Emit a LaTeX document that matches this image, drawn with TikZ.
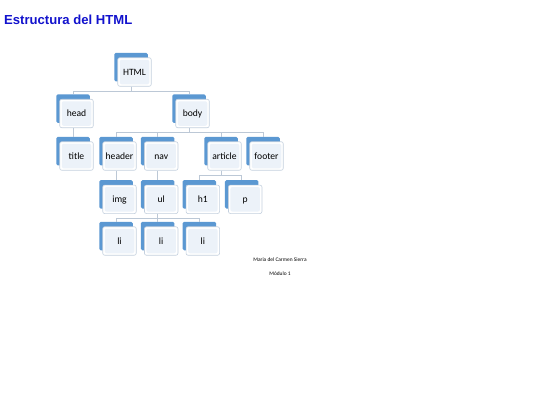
\documentclass[tikz,border=0pt]{standalone}
\usepackage{fontspec}
\setmainfont{Carlito}
\newfontfamily\titlefont{Liberation Sans}
\usepackage{xcolor}
\definecolor{tagblue}{RGB}{91,152,210}
\definecolor{tagline}{RGB}{196,208,222}
\definecolor{taginner}{RGB}{236,242,249}
\definecolor{linkgray}{RGB}{188,200,214}
\definecolor{titleblue}{RGB}{18,18,205}

\begin{document}
\begin{tikzpicture}[x=1bp,y=-1bp]
    \tikzstyle{back}=[rectangle, rounded corners=1.5bp, fill=tagblue, inner sep=0pt,
        minimum width=33.5bp, minimum height=28.5bp]
    \tikzstyle{tag}=[rectangle, rounded corners=2bp, fill=white, draw=tagline, line width=0.6bp,
        inner sep=0pt, minimum width=33.5bp, minimum height=28.5bp,
        font=\fontsize{9.6bp}{11bp}\selectfont, text height=6.6bp, text depth=0pt,
        path picture={\fill[taginner] ([shift={(2bp,-2bp)}]path picture bounding box.north west)
            rectangle ([shift={(-2bp,2bp)}]path picture bounding box.south east);}]
    \tikzstyle{link}=[draw=linkgray, line width=0.7bp]

    \fill[white] (0,0) rectangle (540,405);
    \useasboundingbox (0,0) rectangle (540,405);

    \node [anchor=base west, inner sep=0pt, text=titleblue,
        font=\titlefont\bfseries\fontsize{13.1bp}{16bp}\selectfont] (title-text) at (4,24) {Estructura del HTML};

    % level 1
    \node [back] (html-b) at (131,67) {};
    \node [tag] (html) at ([shift={(3.5,5)}]html-b) {HTML};

    % level 2
    \node [back] (head-b) at (73,108.5) {};
    \node [tag] (head) at ([shift={(3.5,5)}]head-b) {head};
    \node [back] (body-b) at (189,108.5) {};
    \node [tag] (body) at ([shift={(3.5,5)}]body-b) {body};

    % level 3
    \node [back] (title-b) at (73,151) {};
    \node [tag] (title) at ([shift={(3.5,5)}]title-b) {title};
    \node [back] (header-b) at (116,151) {};
    \node [tag] (header) at ([shift={(3.5,5)}]header-b) {header};
    \node [back] (nav-b) at (157.7,151) {};
    \node [tag] (nav) at ([shift={(3.5,5)}]nav-b) {nav};
    \node [back] (article-b) at (221,151) {};
    \node [tag] (article) at ([shift={(3.5,5)}]article-b) {article};
    \node [back] (footer-b) at (263,151) {};
    \node [tag] (footer) at ([shift={(3.5,5)}]footer-b) {footer};

    % level 4
    \node [back] (img-b) at (116,194.3) {};
    \node [tag] (img) at ([shift={(3.5,5)}]img-b) {img};
    \node [back] (ul-b) at (157.7,194.3) {};
    \node [tag] (ul) at ([shift={(3.5,5)}]ul-b) {ul};
    \node [back] (h1-b) at (199.3,194.3) {};
    \node [tag] (h1) at ([shift={(3.5,5)}]h1-b) {h1};
    \node [back] (p-b) at (241.7,194.3) {};
    \node [tag] (p) at ([shift={(3.5,5)}]p-b) {p};

    % level 5
    \node [back] (li1-b) at (116,236) {};
    \node [tag] (li1) at ([shift={(3.5,5)}]li1-b) {li};
    \node [back] (li2-b) at (157.7,236) {};
    \node [tag] (li2) at ([shift={(3.5,5)}]li2-b) {li};
    \node [back] (li3-b) at (199.3,236) {};
    \node [tag] (li3) at ([shift={(3.5,5)}]li3-b) {li};

    % connectors
    \draw [link] (html-b |- html.south) -- ++(0,4.5) -| (head-b.north);
    \draw [link] (html-b |- html.south) -- ++(0,4.5) -| (body-b.north);
    \draw [link] (head-b |- head.south) -- (title-b.north);
    \draw [link] (body-b |- body.south) -- ++(0,4.5) -| (header-b.north);
    \draw [link] (body-b |- body.south) -- ++(0,4.5) -| (nav-b.north);
    \draw [link] (body-b |- body.south) -- ++(0,4.5) -| (article-b.north);
    \draw [link] (body-b |- body.south) -- ++(0,4.5) -| (footer-b.north);
    \draw [link] (header-b |- header.south) -- (img-b.north);
    \draw [link] (nav-b |- nav.south) -- (ul-b.north);
    \draw [link] (article-b |- article.south) -- ++(0,4.5) -| (h1-b.north);
    \draw [link] (article-b |- article.south) -- ++(0,4.5) -| (p-b.north);
    \draw [link] (ul-b |- ul.south) -- ++(0,4) -| (li1-b.north);
    \draw [link] (ul-b |- ul.south) -- ++(0,4) -| (li2-b.north);
    \draw [link] (ul-b |- ul.south) -- ++(0,4) -| (li3-b.north);

    \node [align=center, inner sep=0pt, font=\fontsize{5.4bp}{13.3bp}\selectfont] (author) at (280,266.7)
        {Maria del Carmen Sierra\\ Módulo 1};
\end{tikzpicture}
\end{document}
